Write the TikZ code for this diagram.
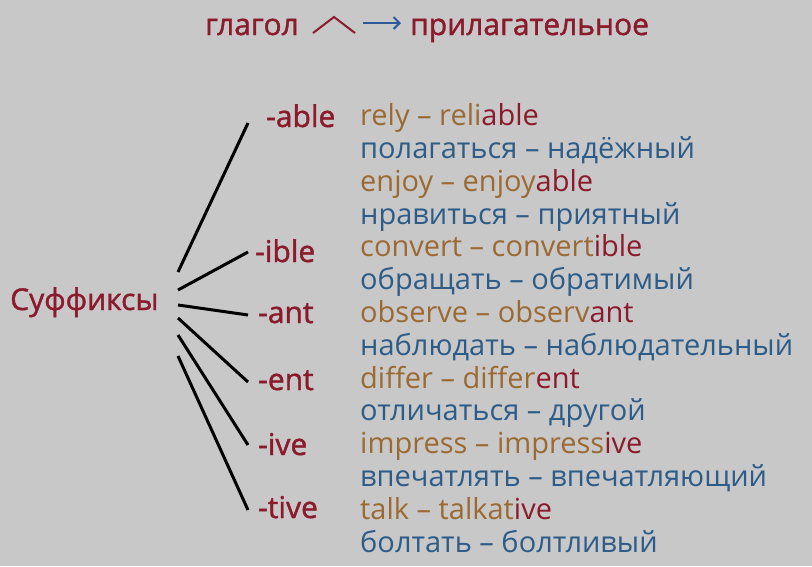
\documentclass[tikz,border=0pt]{standalone}
\usepackage{fontspec}
\setmainfont{Open Sans}
\newfontfamily\sbf[FakeBold=1.3]{Open Sans}
\usetikzlibrary{arrows.meta}
\definecolor{bg}{HTML}{C8C8C8}
\definecolor{sfx}{HTML}{8A1A2C}
\definecolor{brn}{HTML}{9A6A32}
\definecolor{blu}{HTML}{2D5C88}
\definecolor{arr}{HTML}{2F5A9A}
\begin{document}
\begin{tikzpicture}[x=1pt,y=-1pt,
  lst/.style={anchor=base west,inner sep=0pt,font=\fontsize{29}{29}\selectfont},
  en/.style={lst,text=brn},
  ru/.style={lst,text=blu},
  sf/.style={anchor=base west,inner sep=0pt,text=sfx,font=\sbf\fontsize{30}{30}\selectfont},
  ttl/.style={anchor=base west,inner sep=0pt,text=sfx,font=\sbf\fontsize{30}{30}\selectfont},
  con/.style={line width=3pt,black}]
\fill[bg] (0,0) rectangle (812,566);
\useasboundingbox (0,0) rectangle (812,566);
% title
\node[ttl] (t1) at (205,35) {глагол};
\node[ttl] (t2) at (410,35) {прилагательное};
\coordinate (k1) at (313,33);
\coordinate (k2) at (334,17);
\coordinate (k3) at (355,33);
\draw[sfx,line width=2pt] (k1) -- (k2) -- (k3);
\coordinate (a1) at (363,23);
\coordinate (a2) at (401,23);
\draw[arr,line width=2pt,-{Straight Barb[length=6pt,width=12pt]}] (a1) -- (a2);
% left label
\node[sf] (suf) at (10,310) {Суффиксы};
% suffixes
\node[sf] (s1) at (266,127) {-able};
\node[sf] (s2) at (255,262) {-ible};
\node[sf] (s3) at (258,323) {-ant};
\node[sf] (s4) at (258,390) {-ent};
\node[sf] (s5) at (258,455) {-ive};
\node[sf] (s6) at (258,518) {-tive};
% connectors
\coordinate (c1) at (178,272); \coordinate (e1) at (248,123);
\coordinate (c2) at (178,290); \coordinate (e2) at (248,252);
\coordinate (c3) at (178,305); \coordinate (e3) at (248,315);
\coordinate (c4) at (178,318); \coordinate (e4) at (248,382);
\coordinate (c5) at (178,335); \coordinate (e5) at (248,445);
\coordinate (c6) at (178,356); \coordinate (e6) at (248,510);
\foreach \i in {1,...,6} \draw[con] (c\i) -- (e\i);
% list
\node[en] (l1) at (360,125) {rely – reli{\color{sfx}able}};
\node[ru] (l2) at (360,158) {полагаться – надёжный};
\node[en] (l3) at (360,191) {enjoy – enjoy{\color{sfx}able}};
\node[ru] (l4) at (360,224) {нравиться – приятный};
\node[en] (l5) at (360,256) {convert – convert{\color{sfx}ible}};
\node[ru] (l6) at (360,289) {обращать – обратимый};
\node[en] (l7) at (360,322) {observe – observ{\color{sfx}ant}};
\node[ru] (l8) at (360,355) {наблюдать – наблюдательный};
\node[en] (l9) at (360,388) {differ – differ{\color{sfx}ent}};
\node[ru] (l10) at (360,420) {отличаться – другой};
\node[en] (l11) at (360,453) {impress – impress{\color{sfx}ive}};
\node[ru] (l12) at (360,486) {впечатлять – впечатляющий};
\node[en] (l13) at (360,519) {talk – talkat{\color{sfx}ive}};
\node[ru] (l14) at (360,552) {болтать – болтливый};
\end{tikzpicture}
\end{document}
